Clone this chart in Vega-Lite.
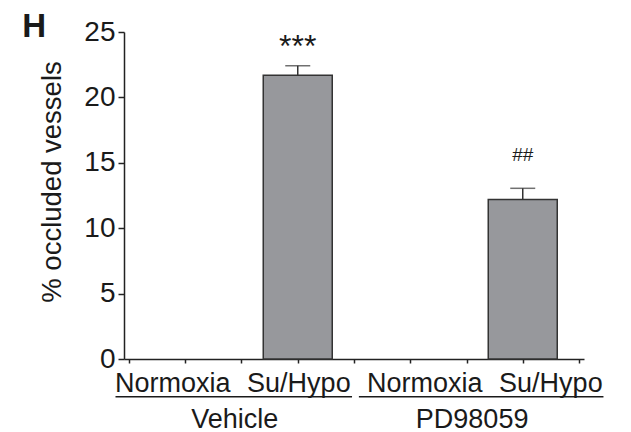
{
  "$schema": "https://vega.github.io/schema/vega-lite/v6.json",
  "width": 460,
  "height": 327,
  "autosize": "none",
  "padding": {"left": 124, "top": 32, "right": 47, "bottom": 73},
  "background": "white",
  "config": {
    "view": {"stroke": null},
    "font": "Liberation Sans",
    "text": {"font": "Liberation Sans", "color": "#1a1a1a"}
  },
  "datasets": {
    "bars": [
      {"group": "Vehicle", "cond": "Normoxia", "pos": 1, "val": 0, "top": 0, "sig": "", "sig_y": 0},
      {"group": "Vehicle", "cond": "Su/Hypo", "pos": 3, "val": 21.7, "top": 22.42, "sig": "***", "sig_y": 23.1},
      {"group": "PD98059", "cond": "Normoxia", "pos": 5, "val": 0, "top": 0, "sig": "", "sig_y": 0},
      {"group": "PD98059", "cond": "Su/Hypo", "pos": 7, "val": 12.2, "top": 13.05, "sig": "##", "sig_y": 15.14}
    ],
    "labels": [
      {"label": "Normoxia", "pos": 0.78, "val": -2.5},
      {"label": "Su/Hypo", "pos": 3.02, "val": -2.5},
      {"label": "Normoxia", "pos": 5.26, "val": -2.5},
      {"label": "Su/Hypo", "pos": 7.5, "val": -2.5},
      {"label": "Vehicle", "pos": 1.88, "val": -5.25},
      {"label": "PD98059", "pos": 6.1, "val": -5.25}
    ],
    "underlines": [
      {"group": "Vehicle", "pos": -0.24, "pos2": 3.965, "val": -2.88},
      {"group": "PD98059", "pos": 4.087, "pos2": 8.435, "val": -2.88}
    ],
    "panel": [
      {"label": "H", "pos": -1.896, "val": 24.62}
    ]
  },
  "layer": [
    {
      "data": {"name": "bars"},
      "transform": [{"filter": "datum.val > 0"}],
      "mark": {"type": "bar", "width": 69, "fill": "#97989c", "stroke": "#333333", "strokeWidth": 1.5},
      "encoding": {
        "x": {
          "field": "pos", "type": "quantitative",
          "scale": {"domain": [0, 8], "nice": false, "zero": false},
          "axis": {
            "values": [0, 1, 2, 3, 4, 5, 6, 7, 8],
            "labels": false,
            "title": null,
            "grid": false,
            "ticks": true,
            "tickSize": 4,
            "tickWidth": 1.5,
            "tickColor": "#222222",
            "domainColor": "#222222",
            "domainWidth": 1.5
          }
        },
        "y": {
          "field": "val", "type": "quantitative",
          "scale": {"domain": [0, 25], "nice": false},
          "axis": {
            "values": [0, 2.5, 5, 7.5, 10, 12.5, 15, 17.5, 20, 22.5, 25],
            "labelExpr": "datum.value % 5 === 0 ? datum.label : ''",
            "title": "% occluded vessels",
            "titleFont": "Liberation Sans",
            "titleFontSize": 27.5,
            "titleFontWeight": "normal",
            "titleColor": "#1a1a1a",
            "titleAngle": -90,
            "titleAlign": "center",
            "titleBaseline": "middle",
            "titleX": -72,
            "titleY": 149.5,
            "grid": false,
            "labelFont": "Liberation Sans",
            "labelFontSize": 28,
            "labelColor": "#1a1a1a",
            "labelPadding": 3,
            "labelFlush": false,
            "labelOverlap": false,
            "tickSize": {"condition": {"test": "datum.value % 5 === 0", "value": 6}, "value": 3},
            "tickWidth": 1.5,
            "tickColor": "#222222",
            "domainColor": "#222222",
            "domainWidth": 1.5
          }
        }
      }
    },
    {
      "data": {"name": "bars"},
      "transform": [{"filter": "datum.val > 0"}],
      "mark": {"type": "rule", "color": "#333333", "strokeWidth": 1.5},
      "encoding": {
        "x": {"field": "pos", "type": "quantitative"},
        "y": {"field": "val", "type": "quantitative"},
        "y2": {"field": "top"}
      }
    },
    {
      "data": {"name": "bars"},
      "transform": [{"filter": "datum.val > 0"}],
      "mark": {"type": "tick", "orient": "horizontal", "color": "#333333", "thickness": 1.5, "size": 25},
      "encoding": {
        "x": {"field": "pos", "type": "quantitative"},
        "y": {"field": "top", "type": "quantitative"}
      }
    },
    {
      "data": {"name": "bars"},
      "transform": [{"filter": "datum.sig !== ''"}],
      "mark": {"type": "text", "baseline": "alphabetic", "align": "center"},
      "encoding": {
        "x": {"field": "pos", "type": "quantitative"},
        "y": {"field": "sig_y", "type": "quantitative"},
        "text": {"field": "sig"},
        "size": {"condition": {"test": "datum.sig === '##'", "value": 19}, "value": 32}
      }
    },
    {
      "data": {"name": "labels"},
      "mark": {"type": "text", "baseline": "alphabetic", "align": "center", "fontSize": 27, "clip": false},
      "encoding": {
        "x": {"field": "pos", "type": "quantitative"},
        "y": {"field": "val", "type": "quantitative"},
        "text": {"field": "label"}
      }
    },
    {
      "data": {"name": "underlines"},
      "mark": {"type": "rule", "color": "#1a1a1a", "strokeWidth": 1.5, "clip": false},
      "encoding": {
        "x": {"field": "pos", "type": "quantitative"},
        "x2": {"field": "pos2"},
        "y": {"field": "val", "type": "quantitative"}
      }
    },
    {
      "data": {"name": "panel"},
      "mark": {"type": "text", "baseline": "alphabetic", "align": "left", "fontSize": 33, "fontWeight": "bold", "clip": false},
      "encoding": {
        "x": {"field": "pos", "type": "quantitative"},
        "y": {"field": "val", "type": "quantitative"},
        "text": {"field": "label"}
      }
    }
  ]
}
